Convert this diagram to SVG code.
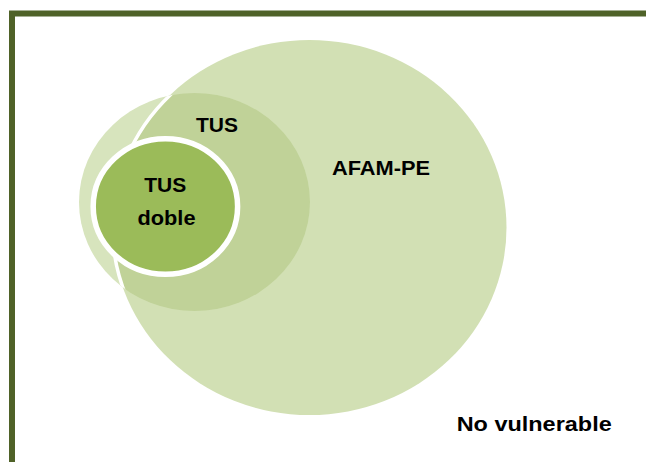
<svg xmlns="http://www.w3.org/2000/svg" width="646" height="462" viewBox="0 0 646 462">
  <style>
    .lbl { font-family: "Liberation Sans", Arial, sans-serif; font-weight: bold; font-size: 21px; fill: #000000; }
  </style>
  <defs>
    <clipPath id="bigClip">
      <ellipse cx="309.5" cy="227.5" rx="197" ry="187.5"/>
    </clipPath>
    <clipPath id="tusClip">
      <ellipse cx="194.5" cy="202" rx="115.5" ry="109"/>
    </clipPath>
  </defs>
  <rect x="0" y="0" width="646" height="462" fill="#ffffff"/>
  <g id="frame">
    <path d="M12,462 V13.5 H646" fill="none" stroke="#4f6228" stroke-width="6" stroke-linejoin="miter"/>
  </g>
  <g id="connectors"></g>
  <g id="afam-pe">
    <ellipse cx="309.5" cy="227.5" rx="197" ry="187.5" fill="#d2e0b4"/>
    <text class="lbl" x="381" y="175" text-anchor="middle" textLength="98" lengthAdjust="spacingAndGlyphs">AFAM-PE</text>
  </g>
  <g id="tus">
    <ellipse cx="194.5" cy="202" rx="115.5" ry="109" fill="#d7e4bd"/>
    <ellipse cx="194.5" cy="202" rx="115.5" ry="109" fill="#c0d298" clip-path="url(#bigClip)"/>
    <ellipse cx="309.5" cy="227.5" rx="197" ry="187.5" fill="none" stroke="#ffffff" stroke-width="3.5" clip-path="url(#tusClip)"/>
    <text class="lbl" x="217" y="131.5" text-anchor="middle">TUS</text>
  </g>
  <g id="tus-doble">
    <ellipse cx="165.4" cy="206.5" rx="72.2" ry="67.8" fill="#9bbb59" stroke="#ffffff" stroke-width="5.5"/>
    <text class="lbl" x="165.3" y="191.7" text-anchor="middle">TUS</text>
    <text class="lbl" x="166.5" y="225" text-anchor="middle" textLength="58" lengthAdjust="spacingAndGlyphs">doble</text>
  </g>
  <g id="no-vulnerable">
    <text class="lbl" x="456.7" y="431" textLength="155" lengthAdjust="spacingAndGlyphs">No vulnerable</text>
  </g>
</svg>
